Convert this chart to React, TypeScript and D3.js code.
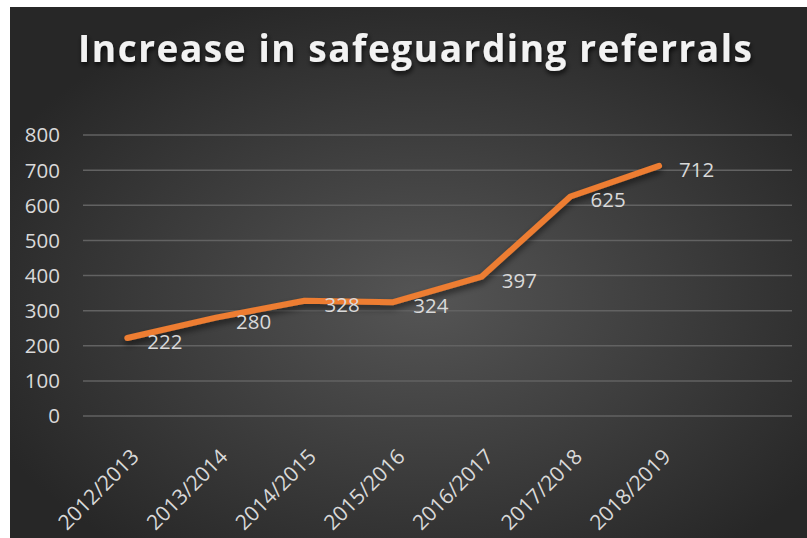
import React, { useRef, useEffect } from 'react';
import * as d3 from 'd3';

const years = ['2012/2013', '2013/2014', '2014/2015', '2015/2016', '2016/2017', '2017/2018', '2018/2019'];
const referrals = [222, 280, 328, 324, 397, 625, 712];
const yTicks = [0, 100, 200, 300, 400, 500, 600, 700, 800];

export default function App() {
  const ref = useRef<SVGSVGElement>(null);

  useEffect(() => {
    const svg = d3.select(ref.current);
    svg.selectAll('*').remove();
    const width = 807, height = 538;
    const font = "'Open Sans', 'Noto Sans', sans-serif";

    const defs = svg.append('defs');
    const grad = defs.append('radialGradient')
      .attr('id', 'bg')
      .attr('cx', '52%').attr('cy', '55%').attr('r', '60%');
    grad.append('stop').attr('offset', '0%').attr('stop-color', '#555555');
    grad.append('stop').attr('offset', '100%').attr('stop-color', '#272727');

    const sh = defs.append('filter').attr('id', 'shadow')
      .attr('x', '-10%').attr('y', '-30%').attr('width', '120%').attr('height', '160%');
    sh.append('feDropShadow').attr('dx', 0).attr('dy', 4).attr('stdDeviation', 3)
      .attr('flood-color', '#000').attr('flood-opacity', 0.55);

    const tsh = defs.append('filter').attr('id', 'tshadow')
      .attr('x', '-5%').attr('y', '-30%').attr('width', '110%').attr('height', '160%');
    tsh.append('feDropShadow').attr('dx', 1).attr('dy', 3).attr('stdDeviation', 2.5)
      .attr('flood-color', '#000').attr('flood-opacity', 0.8);

    svg.append('rect')
      .attr('x', 10).attr('y', 7)
      .attr('width', width - 10).attr('height', height - 7)
      .attr('fill', 'url(#bg)');

    // 8 slots, last one empty, like the original
    const x = d3.scaleBand<string>()
      .domain([...years, ''])
      .range([83, 792]);

    const y = d3.scaleLinear()
      .domain([0, 800])
      .range([416, 135]);

    const px = (i: number) => (x(years[i]) as number) + x.bandwidth() / 2;

    svg.append('g')
      .selectAll('line')
      .data(yTicks)
      .join('line')
      .attr('x1', 83).attr('x2', 792)
      .attr('y1', d => y(d)).attr('y2', d => y(d))
      .attr('stroke', '#626262')
      .attr('stroke-width', 1.5);

    svg.append('g')
      .selectAll('text')
      .data(yTicks)
      .join('text')
      .attr('x', 60)
      .attr('y', d => y(d))
      .attr('dy', '0.36em')
      .attr('text-anchor', 'end')
      .attr('font-family', font)
      .attr('font-size', 20.5)
      .attr('fill', '#d9d9d9')
      .text(d => d);

    svg.append('g')
      .selectAll('text')
      .data(years)
      .join('text')
      .attr('transform', (d, i) => `translate(${px(i) + 13},${458}) rotate(-45)`)
      .attr('text-anchor', 'end')
      .attr('font-family', font)
      .attr('font-size', 21)
      .attr('fill', '#d9d9d9')
      .text(d => d);

    const line = d3.line<number>()
      .x((d, i) => px(i))
      .y(d => y(d));

    svg.append('path')
      .datum(referrals)
      .attr('d', line)
      .attr('fill', 'none')
      .attr('stroke', '#ED7D31')
      .attr('stroke-width', 6)
      .attr('stroke-linecap', 'round')
      .attr('stroke-linejoin', 'round')
      .attr('filter', 'url(#shadow)');

    svg.append('g')
      .selectAll('text')
      .data(referrals)
      .join('text')
      .attr('x', (d, i) => px(i) + 20)
      .attr('y', d => y(d) + 11)
      .attr('font-family', font)
      .attr('font-size', 20.5)
      .attr('fill', '#d9d9d9')
      .text(d => d);

    svg.append('text')
      .attr('x', 78)
      .attr('y', 62)
      .attr('textLength', 674)
      .attr('lengthAdjust', 'spacing')
      .attr('font-family', font)
      .attr('font-weight', 'bold')
      .attr('font-size', 37)
      .attr('fill', '#f2f2f2')
      .attr('filter', 'url(#tshadow)')
      .text('Increase in safeguarding referrals');
  }, []);

  return (
    <svg ref={ref} width={807} height={538} role="img" aria-label="Increase in safeguarding referrals"
      style={{ position: 'absolute', left: 0, top: 0 }} />
  );
}
